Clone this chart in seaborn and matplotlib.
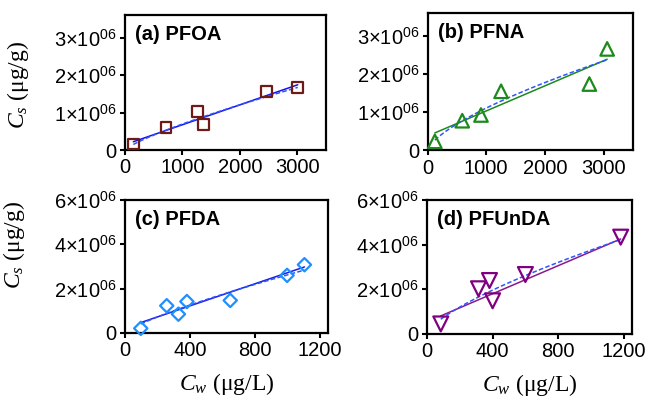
import numpy as np
import pandas as pd
import matplotlib
matplotlib.use("Agg")
import matplotlib.pyplot as plt
import seaborn as sns
from matplotlib.ticker import FixedLocator, FuncFormatter

# ---------------- data ----------------
panel_titles = ["(a) PFOA", "(b) PFNA", "(c) PFDA", "(d) PFUnDA"]

pfoa_cw = [145, 714, 1266, 1364, 2468, 3008]
pfoa_cs = [0.16e6, 0.59e6, 1.03e6, 0.67e6, 1.55e6, 1.67e6]

pfna_cw = [125, 592, 911, 1253, 2757, 3060]
pfna_cs = [0.24e6, 0.78e6, 0.93e6, 1.55e6, 1.74e6, 2.66e6]

pfda_cw = [97, 257, 329, 381, 648, 998, 1105]
pfda_cs = [0.21e6, 1.23e6, 0.85e6, 1.42e6, 1.47e6, 2.60e6, 3.08e6]

pfunda_cw = [84, 314, 381, 400, 600, 1181]
pfunda_cs = [0.43e6, 2.01e6, 2.38e6, 1.47e6, 2.65e6, 4.33e6]

# fitted models: linear (solid) and Freundlich (dashed)
linear_slope = [530.8, 657.3, 2490.0, 3154.0]
linear_intercept = [0.143e6, 0.378e6, 0.2285e6, 0.525e6]
freundlich_k = [2754.0, 10124.0, 10437.0, 27120.0]
freundlich_n = [0.80, 0.68, 0.80, 0.7135]

xticks_top = [0, 1000, 2000, 3000]
yticks_top = [0, 1e6, 2e6, 3e6]
xticks_bottom = [0, 400, 800, 1200]
yticks_bottom = [0, 2e6, 4e6, 6e6]

# ---------------- style ----------------
sns.set_theme(style="white")
plt.rcParams["font.family"] = ["Liberation Sans", "DejaVu Sans"]
plt.rcParams["text.color"] = "black"
plt.rcParams["axes.labelcolor"] = "black"
plt.rcParams["mathtext.fontset"] = "custom"
plt.rcParams["mathtext.rm"] = "Liberation Serif"
plt.rcParams["mathtext.it"] = "Liberation Serif:italic"
plt.rcParams["mathtext.default"] = "regular"

W, H = 647, 396
fig = plt.figure(figsize=(W / 100, H / 100), dpi=100)

def box(l, t, r, b):
    return [l / W, 1 - b / H, (r - l) / W, (b - t) / H]

boxes = [box(125, 15, 326, 150), box(427.5, 13, 633, 150.5),
         box(125, 200, 328, 333), box(427, 200, 632, 333.5)]

xs = [pfoa_cw, pfna_cw, pfda_cw, pfunda_cw]
ys = [pfoa_cs, pfna_cs, pfda_cs, pfunda_cs]
markers = ["s", "^", "D", "v"]
msizes = [62, 95, 46, 115]
mcolors = ["#6e1a16", "#1c8a1c", "#1e8fff", "#800080"]
lcolors = ["#1010f0", "#1c8a1c", "#1a1ae0", "#8a1a8a"]
dash_color = "#2f55ff"
xlims = [3500, 3500, 1250, 1250]
ylims = [3.6e6, 3.6e6, 6e6, 6e6]

def fmt(v, pos):
    if v == 0:
        return "0"
    return f"{int(round(v / 1e6))}×10$^{{06}}$"

for i in range(4):
    ax = fig.add_axes(boxes[i])
    cw = np.array(xs[i], dtype=float)
    cs = np.array(ys[i], dtype=float)
    xfit = np.linspace(cw.min(), cw.max(), 100)
    lin = linear_slope[i] * xfit + linear_intercept[i]
    fr = freundlich_k[i] * xfit ** freundlich_n[i]
    sns.lineplot(x=xfit, y=lin, ax=ax, color=lcolors[i], lw=1.1, zorder=2)
    sns.lineplot(x=xfit, y=fr, ax=ax, color=dash_color, lw=1.1,
                 linestyle=(0, (3, 1.5)), zorder=3)
    sns.scatterplot(x=cw, y=cs, ax=ax, marker=markers[i], s=msizes[i],
                    facecolor="none", edgecolor=mcolors[i], linewidth=1.6,
                    zorder=4, clip_on=False)
    ax.set_xlim(0, xlims[i])
    ax.set_ylim(0, ylims[i])
    top = i < 2
    ax.xaxis.set_major_locator(FixedLocator(xticks_top if top else xticks_bottom))
    ax.yaxis.set_major_locator(FixedLocator(yticks_top if top else yticks_bottom))
    ax.yaxis.set_major_formatter(FuncFormatter(fmt))
    ax.tick_params(axis="both", which="major", direction="out", length=3.5,
                   width=1.5, labelsize=14.5, pad=2.5, colors="black",
                   bottom=True, left=True, top=False, right=False)
    for s in ax.spines.values():
        s.set_linewidth(1.6)
        s.set_color("black")
        s.set_visible(True)
    ax.set_xlabel("")
    ax.set_ylabel("")
    ax.annotate(panel_titles[i], xy=(0, 1), xycoords="axes fraction",
                xytext=(7.5, -7), textcoords="offset points",
                ha="left", va="top", fontsize=14.5, fontweight="bold",
                color="black")
    if i in (0, 2):
        ax.set_ylabel(r"$\mathit{C_s}$ (μg/g)", fontsize=17,
                      family="Liberation Serif", color="black")
        if i == 0:
            ax.yaxis.set_label_coords(-0.468, 0.48)
        else:
            ax.yaxis.set_label_coords(-0.483, 0.66)
    if i >= 2:
        ax.set_xlabel(r"$\mathit{C_w}$ (μg/L)", fontsize=17,
                      family="Liberation Serif", color="black")
        ax.xaxis.set_label_coords(0.5, -0.285)

fig.savefig("out.png", dpi=100)
